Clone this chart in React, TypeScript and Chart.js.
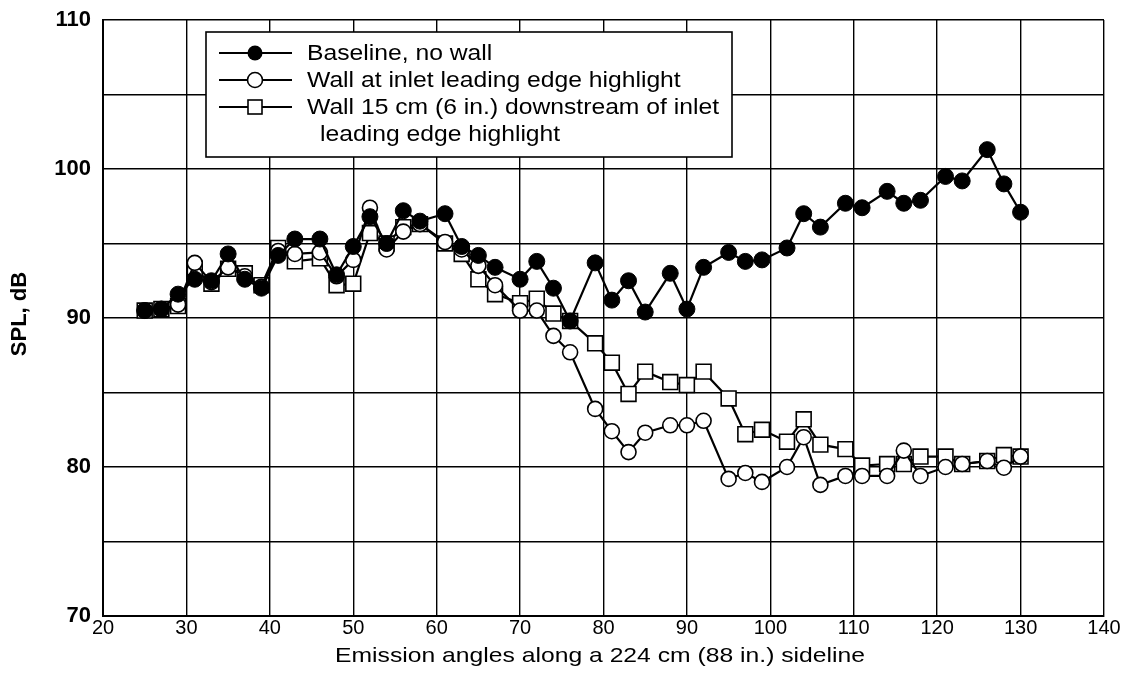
import React, { useEffect, useRef } from "react";
import { Chart, registerables } from "chart.js";

Chart.register(...registerables);

const angles = [25, 27, 29, 31, 33, 35, 37, 39, 41, 43, 46, 48, 50, 52, 54, 56, 58, 61, 63, 65, 67, 70, 72, 74, 76, 79, 81, 83, 85, 88, 90, 92, 95, 97, 99, 102, 104, 106, 109, 111, 114, 116, 118, 121, 123, 126, 128, 130];

const baseline = [90.5, 90.6, 91.6, 92.6, 92.5, 94.3, 92.6, 92.0, 94.2, 95.3, 95.3, 92.9, 94.8, 96.8, 95.0, 97.2, 96.5, 97.0, 94.8, 94.2, 93.4, 92.6, 93.8, 92.0, 89.8, 93.7, 91.2, 92.5, 90.4, 93.0, 90.6, 93.4, 94.4, 93.8, 93.9, 94.7, 97.0, 96.1, 97.7, 97.4, 98.5, 97.7, 97.9, 99.5, 99.2, 101.3, 99.0, 97.1];

const wallAtHighlight = [90.5, 90.6, 90.9, 93.7, 92.4, 93.4, 92.8, 92.1, 94.5, 94.3, 94.4, 92.8, 93.9, 97.4, 94.6, 95.8, 96.3, 95.1, 94.6, 93.5, 92.2, 90.5, 90.5, 88.8, 87.7, 83.9, 82.4, 81.0, 82.3, 82.8, 82.8, 83.1, 79.2, 79.6, 79.0, 80.0, 82.0, 78.8, 79.4, 79.4, 79.4, 81.1, 79.4, 80.0, 80.2, 80.4, 79.95, 80.7];

const wall15cm = [90.5, 90.6, 90.8, 93.3, 92.3, 93.3, 93.0, 92.2, 94.7, 93.8, 94.0, 92.2, 92.3, 95.7, 95.0, 96.1, 96.3, 95.0, 94.3, 92.6, 91.6, 91.0, 91.3, 90.3, 89.8, 88.3, 87.0, 84.9, 86.4, 85.7, 85.5, 86.4, 84.6, 82.2, 82.5, 81.7, 83.2, 81.5, 81.2, 80.1, 80.2, 80.2, 80.7, 80.7, 80.2, 80.4, 80.8, 80.7];

const seriesLabels = [
  "Baseline, no wall",
  "Wall at inlet leading edge highlight",
  "Wall 15 cm (6 in.) downstream of inlet",
];
const legendContinuation = "leading edge highlight";

const yTickLabels = [70, 80, 90, 100, 110];
const xTickLabels = [20, 30, 40, 50, 60, 70, 80, 90, 100, 110, 120, 130, 140];

const xTitle = "Emission angles along a 224 cm (88 in.) sideline";
const yTitle = "SPL, dB";

const FONT = "'Liberation Sans', Arial, Helvetica, sans-serif";

function stretchedText(ctx: CanvasRenderingContext2D, text: string, x: number, y: number, sx: number, align: "left" | "center") {
  ctx.save();
  ctx.translate(x, y);
  ctx.scale(sx, 1);
  ctx.textAlign = align;
  ctx.textBaseline = "middle";
  ctx.fillText(text, 0, 0);
  ctx.restore();
}

const decorPlugin = {
  id: "decor",
  afterDraw(chart: any) {
    const ctx = chart.ctx as CanvasRenderingContext2D;
    ctx.save();
    ctx.fillStyle = "#000";

    // axis titles
    ctx.font = "21px " + FONT;
    const wx = ctx.measureText(xTitle).width;
    stretchedText(ctx, xTitle, 600, 656, 530 / wx, "center");

    ctx.save();
    ctx.translate(20, 314);
    ctx.rotate(-Math.PI / 2);
    ctx.font = "bold 22px " + FONT;
    ctx.textAlign = "center";
    ctx.textBaseline = "middle";
    ctx.fillText(yTitle, 0, 0);
    ctx.restore();

    // legend box
    const left = 206;
    const top = 32;
    const right = 732;
    const bottom = 157;
    ctx.fillStyle = "#fff";
    ctx.fillRect(left, top, right - left, bottom - top);
    ctx.strokeStyle = "#000";
    ctx.lineWidth = 1.6;
    ctx.strokeRect(left, top, right - left, bottom - top);

    const rows = [53, 80, 107];
    const lx0 = 219;
    const lx1 = 292;
    const mx = 255;
    ctx.font = "22px " + FONT;
    const sx = 412 / ctx.measureText(seriesLabels[2]).width;
    rows.forEach((y, i) => {
      ctx.strokeStyle = "#000";
      ctx.lineWidth = 2;
      ctx.beginPath();
      ctx.moveTo(lx0, y);
      ctx.lineTo(lx1, y);
      ctx.stroke();
      ctx.lineWidth = 1.6;
      if (i === 0) {
        ctx.fillStyle = "#000";
        ctx.beginPath();
        ctx.arc(mx, y, 7.5, 0, Math.PI * 2);
        ctx.fill();
      } else if (i === 1) {
        ctx.fillStyle = "#fff";
        ctx.beginPath();
        ctx.arc(mx, y, 7.5, 0, Math.PI * 2);
        ctx.fill();
        ctx.stroke();
      } else {
        ctx.fillStyle = "#fff";
        ctx.fillRect(mx - 7, y - 7, 14, 14);
        ctx.strokeRect(mx - 7, y - 7, 14, 14);
      }
      ctx.fillStyle = "#000";
      stretchedText(ctx, seriesLabels[i], 307, y + 1, sx, "left");
    });
    ctx.fillStyle = "#000";
    stretchedText(ctx, legendContinuation, 320, 135, sx, "left");
    ctx.restore();
  },
};

export default function App() {
  const canvasRef = useRef<HTMLCanvasElement | null>(null);

  useEffect(() => {
    if (!canvasRef.current) return;
    const mk = (vals: number[]) => angles.map((a, i) => ({ x: a, y: vals[i] }));
    const chart = new Chart(canvasRef.current, {
      type: "line",
      data: {
        datasets: [
          {
            label: seriesLabels[0],
            data: mk(baseline),
            borderColor: "#000",
            backgroundColor: "#000",
            borderWidth: 2.2,
            pointStyle: "circle",
            pointRadius: 8,
            pointBackgroundColor: "#000",
            pointBorderColor: "#000",
            pointBorderWidth: 1,
            tension: 0,
            order: 0,
          },
          {
            label: seriesLabels[1],
            data: mk(wallAtHighlight),
            borderColor: "#000",
            backgroundColor: "#fff",
            borderWidth: 2.2,
            pointStyle: "circle",
            pointRadius: 7.5,
            pointBackgroundColor: "#fff",
            pointBorderColor: "#000",
            pointBorderWidth: 1.6,
            tension: 0,
            order: 1,
          },
          {
            label: seriesLabels[2],
            data: mk(wall15cm),
            borderColor: "#000",
            backgroundColor: "#fff",
            borderWidth: 2.2,
            pointStyle: "rect",
            pointRadius: 10.5,
            pointBackgroundColor: "#fff",
            pointBorderColor: "#000",
            pointBorderWidth: 1.6,
            tension: 0,
            order: 2,
          },
        ],
      },
      options: {
        responsive: false,
        animation: false,
        devicePixelRatio: 1,
        layout: { padding: { top: 20, right: 22, left: 0, bottom: 0 } },
        plugins: {
          legend: { display: false },
          tooltip: { enabled: false },
        },
        scales: {
          x: {
            type: "linear",
            min: xTickLabels[0],
            max: xTickLabels[xTickLabels.length - 1],
            afterFit(scale: any) {
              scale.height = 69;
              scale.paddingLeft = 0;
              scale.paddingRight = 0;
            },
            afterBuildTicks(scale: any) {
              scale.ticks = xTickLabels.map((v) => ({ value: v }));
            },
            ticks: {
              color: "#000",
              padding: 0,
              font: { family: FONT, size: 20 },
              maxRotation: 0,
              autoSkip: false,
              callback: (v: any) => String(v),
            },
            grid: { color: "#000", lineWidth: 1.4, drawTicks: false },
            border: { color: "#000", width: 2 },
          },
          y: {
            type: "linear",
            min: 70,
            max: 110,
            afterFit(scale: any) {
              scale.width = 103;
              scale.paddingTop = 0;
              scale.paddingBottom = 0;
            },
            ticks: {
              stepSize: 5,
              color: "#000",
              padding: 12,
              font: { family: FONT, size: 22, weight: "bold" },
              callback: (v: any) => (yTickLabels.includes(Number(v)) ? String(v) : ""),
            },
            grid: { color: "#000", lineWidth: 1.4, drawTicks: false },
            border: { color: "#000", width: 2 },
          },
        },
      },
      plugins: [decorPlugin],
    });
    return () => chart.destroy();
  }, []);

  return (
    <div style={{ position: "absolute", left: 0, top: 0, width: 1126, height: 685, background: "#fff" }}>
      <canvas ref={canvasRef} width={1126} height={685} style={{ display: "block" }} />
    </div>
  );
}
